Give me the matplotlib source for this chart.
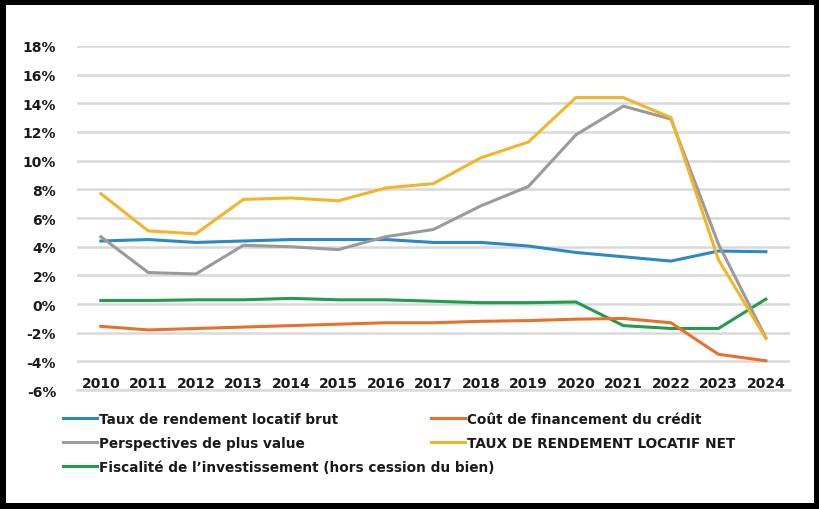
import numpy as np
import matplotlib.pyplot as plt
from matplotlib.ticker import FuncFormatter

# =========================
# DATA (in %)
# =========================
years = list(range(2010, 2025))

taux_brut = [4.4, 4.5, 4.3, 4.4, 4.5, 4.5, 4.5, 4.3, 4.3, 4.05, 3.6, 3.3, 3.0, 3.7, 3.65]
cout_credit = [-1.55, -1.8, -1.7, -1.6, -1.5, -1.4, -1.3, -1.3, -1.2, -1.15, -1.05, -1.0, -1.3, -3.5, -3.95]
plus_value = [4.7, 2.2, 2.1, 4.1, 4.0, 3.8, 4.7, 5.2, 6.85, 8.2, 11.8, 13.8, 12.9, 4.2, -2.35]
taux_net = [7.7, 5.1, 4.9, 7.3, 7.4, 7.2, 8.1, 8.4, 10.2, 11.3, 14.4, 14.4, 13.0, 3.1, -2.4]
fiscalite = [0.25, 0.25, 0.3, 0.3, 0.4, 0.3, 0.3, 0.2, 0.1, 0.1, 0.15, -1.5, -1.7, -1.7, 0.35]

labels = {
    "brut": "Taux de rendement locatif brut",
    "credit": "Coût de financement du crédit",
    "pv": "Perspectives de plus value",
    "net": "TAUX DE RENDEMENT LOCATIF NET",
    "fisc": "Fiscalité de l\u2019investissement (hors cession du bien)",
}

y_ticks = list(range(-6, 19, 2))

# =========================
# FIGURE
# =========================
plt.rcParams['font.family'] = ['DejaVu Sans']
fig = plt.figure(figsize=(8.2, 5.1), dpi=100)
ax = fig.add_axes([0.094, 0.233, 0.869, 0.675])

lw = 2.2
l_brut, = ax.plot(years, taux_brut, color="#2B88C6", lw=lw, label=labels["brut"])
l_pv, = ax.plot(years, plus_value, color="#9A9A9A", lw=lw, label=labels["pv"])
l_fisc, = ax.plot(years, fiscalite, color="#1F9D4C", lw=lw, label=labels["fisc"])
l_credit, = ax.plot(years, cout_credit, color="#E8712A", lw=lw, label=labels["credit"])
l_net, = ax.plot(years, taux_net, color="#F2B52A", lw=lw, label=labels["net"])
# net drawn above plus value, as in the original
l_net.set_zorder(3)
l_pv.set_zorder(2.9)

ax.set_xlim(2009.5, 2024.5)
ax.set_ylim(-6, 18)
ax.set_yticks(y_ticks)
ax.yaxis.set_major_formatter(FuncFormatter(lambda v, p: f"{int(v)}%"))
ax.set_xticks(years)
ax.set_xticklabels([str(y) for y in years])

ax.grid(axis="y", color="#D9D9D9", lw=1.8)
ax.set_axisbelow(True)
for s in ["top", "right", "left"]:
    ax.spines[s].set_visible(False)
ax.spines["bottom"].set_color("#D9D9D9")
ax.spines["bottom"].set_linewidth(1.8)

ax.tick_params(axis="both", length=0, labelsize=10)
ax.tick_params(axis="x", pad=-10)
ax.tick_params(axis="y", pad=15)
for t in ax.get_xticklabels() + ax.get_yticklabels():
    t.set_fontweight("bold")
    t.set_color("#1A1A1A")

# --- legend in two blocks (left column / right column)
leg_kw = dict(loc="upper left", frameon=False, handlelength=2.5, handletextpad=0.2,
              labelspacing=0.75, borderpad=0, prop={"weight": "bold", "size": 9.8})
leg1 = fig.legend(handles=[l_brut, l_pv, l_fisc], bbox_to_anchor=(0.068, 0.204), **leg_kw)
leg2 = fig.legend(handles=[l_credit, l_net], bbox_to_anchor=(0.517, 0.204), **leg_kw)
for leg in (leg1, leg2):
    for t in leg.get_texts():
        t.set_color("#1A1A1A")

fig.patch.set_edgecolor("black")
fig.patch.set_linewidth(8.5)

fig.savefig("out.png", dpi=100, edgecolor=fig.get_edgecolor())
